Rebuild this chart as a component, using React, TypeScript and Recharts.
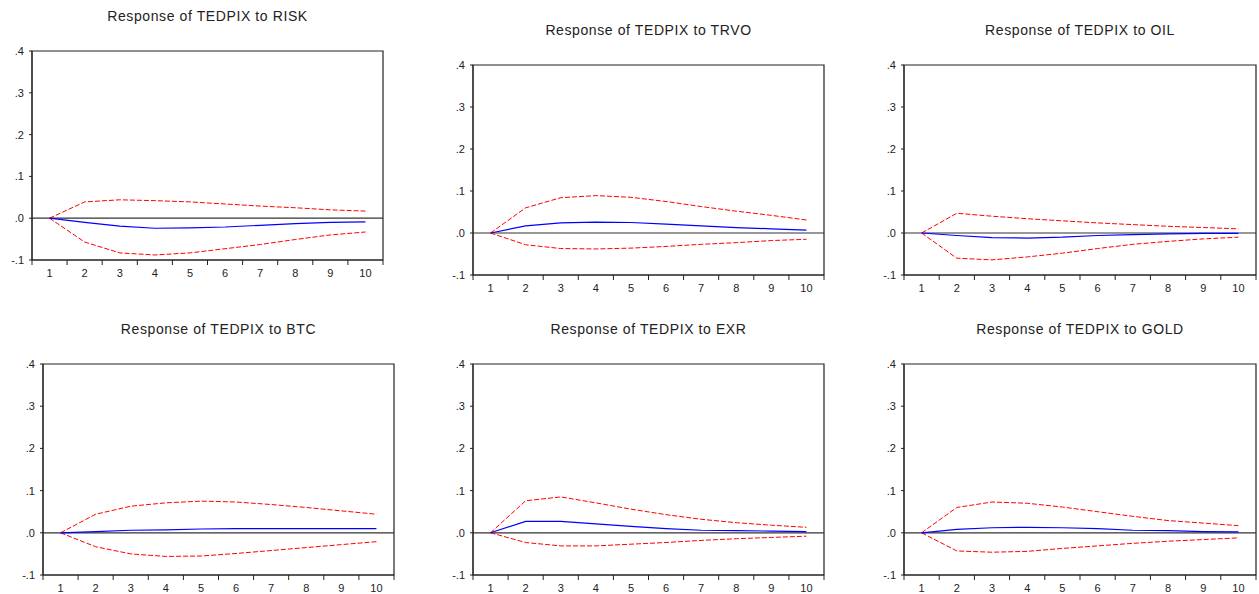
import React from "react";
import { LineChart, Line, XAxis, YAxis, ReferenceLine, ReferenceArea } from "recharts";

const periods = [1, 2, 3, 4, 5, 6, 7, 8, 9, 10];
const yTicks = [-0.1, 0, 0.1, 0.2, 0.3, 0.4];
const xTicks = [0.5, 1.5, 2.5, 3.5, 4.5, 5.5, 6.5, 7.5, 8.5, 9.5, 10.5];

// response, upper band, lower band (±2 S.E.)
const riskResp = [0, -0.010, -0.019, -0.024, -0.023, -0.021, -0.017, -0.013, -0.010, -0.009];
const riskUpper = [0, 0.039, 0.044, 0.042, 0.039, 0.034, 0.029, 0.025, 0.020, 0.017];
const riskLower = [0, -0.057, -0.083, -0.088, -0.083, -0.073, -0.063, -0.051, -0.040, -0.033];

const trvoResp = [0, 0.017, 0.024, 0.026, 0.025, 0.021, 0.017, 0.013, 0.010, 0.007];
const trvoUpper = [0, 0.060, 0.084, 0.089, 0.085, 0.075, 0.063, 0.052, 0.042, 0.031];
const trvoLower = [0, -0.028, -0.037, -0.038, -0.036, -0.032, -0.027, -0.023, -0.018, -0.015];

const oilResp = [0, -0.006, -0.011, -0.012, -0.010, -0.006, -0.004, -0.002, -0.001, -0.001];
const oilUpper = [0, 0.047, 0.040, 0.034, 0.029, 0.024, 0.020, 0.016, 0.013, 0.010];
const oilLower = [0, -0.060, -0.064, -0.057, -0.048, -0.037, -0.027, -0.020, -0.014, -0.010];

const btcResp = [0, 0.003, 0.006, 0.007, 0.009, 0.010, 0.010, 0.010, 0.010, 0.010];
const btcUpper = [0, 0.044, 0.063, 0.071, 0.075, 0.073, 0.067, 0.060, 0.052, 0.044];
const btcLower = [0, -0.033, -0.050, -0.056, -0.055, -0.049, -0.042, -0.035, -0.028, -0.021];

const exrResp = [0, 0.027, 0.027, 0.021, 0.015, 0.010, 0.006, 0.005, 0.004, 0.003];
const exrUpper = [0, 0.076, 0.085, 0.071, 0.056, 0.043, 0.032, 0.024, 0.018, 0.013];
const exrLower = [0, -0.023, -0.031, -0.031, -0.027, -0.023, -0.018, -0.014, -0.011, -0.008];

const goldResp = [0, 0.008, 0.012, 0.013, 0.012, 0.010, 0.006, 0.005, 0.003, 0.002];
const goldUpper = [0, 0.060, 0.073, 0.070, 0.061, 0.050, 0.039, 0.029, 0.023, 0.017];
const goldLower = [0, -0.043, -0.046, -0.044, -0.037, -0.031, -0.025, -0.020, -0.016, -0.012];

const build = (resp: number[], up: number[], lo: number[]) =>
  periods.map((p, i) => ({ period: p, resp: resp[i], upper: up[i], lower: lo[i] }));

// frame boxes (plot area) in page pixels
const panels = [
  { title: "Response of TEDPIX to RISK", data: build(riskResp, riskUpper, riskLower), x: 32, y: 51, w: 351, h: 209 },
  { title: "Response of TEDPIX to TRVO", data: build(trvoResp, trvoUpper, trvoLower), x: 473, y: 65, w: 351, h: 210 },
  { title: "Response of TEDPIX to OIL", data: build(oilResp, oilUpper, oilLower), x: 904, y: 65, w: 352, h: 210 },
  { title: "Response of TEDPIX to BTC", data: build(btcResp, btcUpper, btcLower), x: 43, y: 364, w: 351, h: 211 },
  { title: "Response of TEDPIX to EXR", data: build(exrResp, exrUpper, exrLower), x: 473, y: 364, w: 351, h: 211 },
  { title: "Response of TEDPIX to GOLD", data: build(goldResp, goldUpper, goldLower), x: 904, y: 364, w: 352, h: 211 },
];

const FONT = "'Liberation Sans', Arial, sans-serif";
const Y_W = 30;
const M_TOP = 5;
const M_RIGHT = 5;
const X_H = 25;

const fmtY = (v: number) => {
  if (Math.abs(v) < 1e-9) return ".0";
  return (v < 0 ? "-" : "") + "." + Math.round(Math.abs(v) * 10);
};

function Panel({ p }: { p: (typeof panels)[number] }) {
  const half = p.w / 20;
  const XTick = (props: any) => {
    const { x, y, payload } = props;
    if (payload.value > 10) return <g />;
    return (
      <text x={x + half} y={y} dy="0.71em" textAnchor="middle" fontSize={11} fill="#222" fontFamily={FONT}>
        {payload.value + 0.5}
      </text>
    );
  };
  return (
    <>
      <div
        style={{
          position: "absolute",
          left: p.x - 20,
          top: p.y - 43,
          width: p.w + 40,
          textAlign: "center",
          fontFamily: FONT,
          fontSize: 14,
          letterSpacing: "0.6px",
          color: "#222",
          lineHeight: "17px",
          whiteSpace: "nowrap",
        }}
      >
        {p.title}
      </div>
      <div style={{ position: "absolute", left: p.x - Y_W, top: p.y - M_TOP }}>
        <LineChart
          width={Y_W + p.w + M_RIGHT}
          height={M_TOP + p.h + X_H}
          data={p.data}
          margin={{ top: M_TOP, right: M_RIGHT, left: 0, bottom: 0 }}
        >
          <XAxis
            dataKey="period"
            type="number"
            domain={[0.5, 10.5]}
            ticks={xTicks}
            interval={0}
            height={X_H}
            tickSize={5}
            tickMargin={4}
            tick={XTick}
            axisLine={{ stroke: "#222" }}
            tickLine={{ stroke: "#222" }}
          />
          <YAxis
            type="number"
            domain={[-0.1, 0.4]}
            ticks={yTicks}
            interval={0}
            width={Y_W}
            tickSize={3}
            tickMargin={5}
            tickFormatter={fmtY}
            tick={{ fontSize: 11, fill: "#222", fontFamily: FONT }}
            axisLine={{ stroke: "#222" }}
            tickLine={{ stroke: "#222" }}
          />
          <ReferenceArea x1={0.5} x2={10.5} y1={-0.1} y2={0.4} fill="none" stroke="#222" strokeWidth={1.2} ifOverflow="visible" />
          <ReferenceLine y={0} stroke="#333" strokeWidth={1.2} />
          <Line type="linear" dataKey="upper" stroke="#ff0000" strokeWidth={1} strokeDasharray="5 2" dot={false} isAnimationActive={false} />
          <Line type="linear" dataKey="lower" stroke="#ff0000" strokeWidth={1} strokeDasharray="5 2" dot={false} isAnimationActive={false} />
          <Line type="linear" dataKey="resp" stroke="#0000ff" strokeWidth={1.2} dot={false} isAnimationActive={false} />
        </LineChart>
      </div>
    </>
  );
}

export default function App() {
  return (
    <div
      style={{
        position: "absolute",
        left: 0,
        top: 0,
        width: 1259,
        height: 594,
        overflow: "hidden",
        background: "#fff",
      }}
    >
      {panels.map((p) => (
        <Panel key={p.title} p={p} />
      ))}
    </div>
  );
}
